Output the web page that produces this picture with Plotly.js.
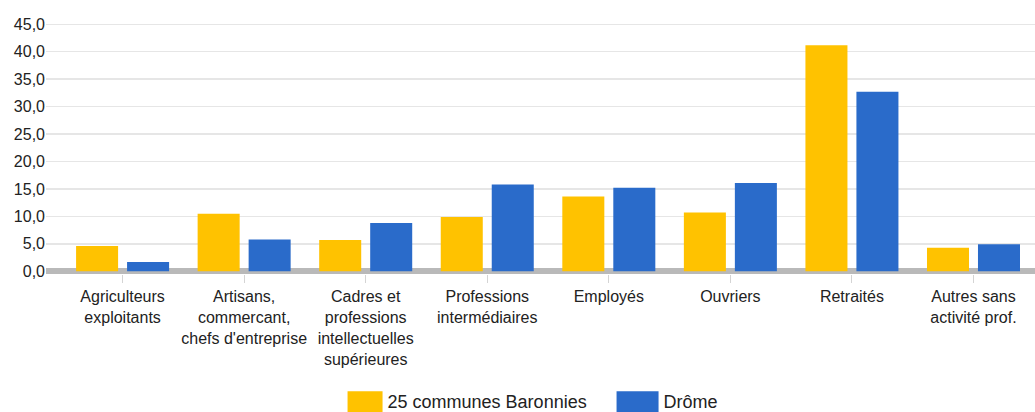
<!DOCTYPE html>
<html>
<head>
<meta charset="utf-8">
<script src="https://cdn.plot.ly/plotly-3.0.1.min.js"></script>
<style>
  html, body { margin: 0; padding: 0; background: #fff; }
  #chart { width: 1035px; height: 412px; }
</style>
</head>
<body>
<div id="chart"></div>
<script>
const categories = [
  "Agriculteurs<br>exploitants",
  "Artisans,<br>commercant,<br>chefs d'entreprise",
  "Cadres et<br>professions<br>intellectuelles<br>supérieures",
  "Professions<br>intermédiaires",
  "Employés",
  "Ouvriers",
  "Retraités",
  "Autres sans<br>activité prof."
];
const baronnies = [4.6, 10.5, 5.7, 9.9, 13.6, 10.7, 41.2, 4.3];
const drome = [1.7, 5.8, 8.8, 15.8, 15.2, 16.1, 32.7, 4.9];
const seriesNames = ["25 communes Baronnies", "Drôme"];
const yTicks = [0, 5, 10, 15, 20, 25, 30, 35, 40, 45];

const FONT = "Arial, 'Liberation Sans', sans-serif";

const traces = [
  { type: "bar", x: categories, y: baronnies, name: seriesNames[0],
    marker: { color: "#ffc200" }, hoverinfo: "skip" },
  { type: "bar", x: categories, y: drome, name: seriesNames[1],
    marker: { color: "#2a6bca" }, hoverinfo: "skip" }
];

const layout = {
  width: 1035, height: 412,
  margin: { l: 46, r: 0, t: 10, b: 138 },
  paper_bgcolor: "#ffffff", plot_bgcolor: "#ffffff",
  font: { family: FONT, size: 16, color: "#222222" },
  separators: ", ",
  barmode: "group",
  bargap: 0.161,
  bargroupgap: 0.176,
  xaxis: {
    type: "category",
    range: [-0.63, 7.506],
    tickangle: 0,
    ticks: "outside", ticklen: 8, tickcolor: "#d4d4d4", tickwidth: 1,
    showgrid: false, showline: false, zeroline: false,
    tickfont: { family: FONT, size: 16, color: "#222222" }
  },
  yaxis: {
    range: [-0.5, 47.6],
    tickvals: yTicks,
    tickformat: ".1f",
    showgrid: true, gridcolor: "#e6e6e6", gridwidth: 1.5,
    zeroline: true, zerolinecolor: "#b9b9b9", zerolinewidth: 6,
    showline: false, ticks: "",
    tickfont: { family: FONT, size: 16, color: "#222222" }
  },
  showlegend: true,
  legend: {
    orientation: "h",
    xref: "container", yref: "container",
    x: 0.3358, xanchor: "left",
    y: 0.07, yanchor: "top",
    font: { family: FONT, size: 18, color: "#222222" },
    entrywidth: 231,
    bgcolor: "rgba(0,0,0,0)"
  }
};

Plotly.newPlot("chart", traces, layout, { displayModeBar: false, staticPlot: true }).then(function (gd) {
  // enlarge legend swatches to wide blocks like the reference
  gd.querySelectorAll(".legend path.legendbar, .legend .legendpoints path").forEach(function (p) {
    p.setAttribute("d", "M15,-10H-27V12H15Z");
  });
});
</script>
</body>
</html>
